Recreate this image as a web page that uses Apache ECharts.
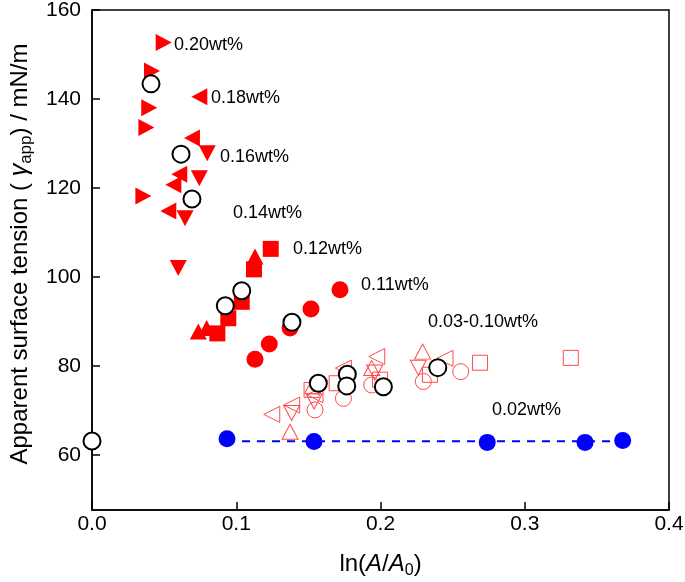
<!DOCTYPE html>
<html>
<head>
<meta charset="utf-8">
<script src="https://cdn.jsdelivr.net/npm/echarts@6/dist/echarts.min.js"></script>
<style>html,body{margin:0;padding:0;background:#fff;}#c{width:685px;height:582px;}</style>
</head>
<body>
<div id="c"></div>
<script>
// ---- data ----
const xTicks = [0, 0.1, 0.2, 0.3, 0.4];
const yTicks = [60, 80, 100, 120, 140, 160];

const wt020 = [[0.0497,152.7],[0.0416,146.3],[0.0397,138.0],[0.0377,133.6],[0.0356,118.2]];
const wt018 = [[0.0744,140.5],[0.0693,131.2],[0.0605,123.1],[0.0564,120.7],[0.0529,114.8]];
const wt016 = [[0.0799,127.8],[0.0744,122.2],[0.0645,113.2],[0.0598,102.0]];
const wt014 = [[0.1130,104.6],[0.0737,87.7],[0.0795,88.5]];
const wt012 = [[0.1239,106.3],[0.1123,101.7],[0.1038,94.4],[0.0945,90.7],[0.0869,87.3]];
const wt011 = [[0.1719,97.1],[0.1518,92.8],[0.1373,88.5],[0.1229,84.9],[0.1130,81.5]];
const wt002 = [[0.0936,63.6],[0.1539,63.0],[0.2740,62.8],[0.3418,62.8],[0.3679,63.2]];
const water = [[0,63.1],[0.0409,143.4],[0.0617,127.6],[0.0693,117.5],[0.0924,93.5],[0.1038,96.9],[0.1386,89.8],[0.1569,76.1],[0.1770,78.1],[0.1766,75.5],[0.2020,75.3],[0.2397,79.6]];

const lowUp = [[0.1373,65.2],[0.1530,75.5],[0.1939,79.5],[0.2292,83.2]];
const lowDown = [[0.1384,69.4],[0.1540,72.0],[0.1960,78.5],[0.2262,79.6]];
const lowLeft = [[0.1246,69.1],[0.1384,71.2],[0.1546,73.5],[0.1743,79.5],[0.1974,82.1],[0.2447,81.7]];
const lowSquare = [[0.1522,74.6],[0.1696,76.1],[0.1997,76.9],[0.2343,78.0],[0.2690,80.7],[0.3319,81.8]];
const lowCircle = [[0.1546,70.1],[0.1743,72.7],[0.1939,75.7],[0.2297,76.5],[0.2556,78.7]];

const groupLabels = ['0.20wt%','0.18wt%','0.16wt%','0.14wt%','0.12wt%','0.11wt%','0.03-0.10wt%','0.02wt%'];
const labelAnchors = [[0.0568,152.1],[0.0825,140.2],[0.0887,127.0],[0.0977,114.4],[0.1393,106.3],[0.1865,98.2],[0.2329,89.9],[0.2773,70.1]];

// ---- chart ----
const FONT = 'Liberation Sans, Arial, sans-serif';
const RED = '#ff0000';
const LRED = '#ff4a4a';
const fitY = wt002.reduce((s,p)=>s+p[1],0)/wt002.length;
const fitLine = [[Math.min(...wt002.map(p=>p[0])), fitY],[Math.max(...wt002.map(p=>p[0])), fitY]];

function filled(data, symbol, rot, size, color, z) {
  return {type:'scatter', data, symbol, symbolRotate: rot, symbolSize: size,
    itemStyle:{color: color, opacity:1}, z: z || 3, silent:true};
}
function open(data, symbol, rot, size) {
  return {type:'scatter', data, symbol, symbolRotate: rot, symbolSize: size,
    itemStyle:{color:'rgba(255,255,255,0)', borderColor: LRED, borderWidth:1, opacity:1}, z:2, silent:true};
}

const chart = echarts.init(document.getElementById('c'), null, {renderer:'canvas'});
chart.setOption({
  animation:false,
  backgroundColor:'#fff',
  grid:{left:92, right:16, top:10, bottom:72, outerBoundsMode:'none', containLabel:false,
    show:true, borderColor:'#000', borderWidth:1.5, backgroundColor:'transparent'},
  graphic:[{
    type:'text', x:20, y:254, rotation:Math.PI/2, silent:true,
    style:{text:'Apparent surface tension ( {g|γ}{s|app}) / mN/m', fill:'#000',
      font:'24px ' + FONT, align:'center', verticalAlign:'middle',
      rich:{g:{fontStyle:'italic', fontFamily:FONT, fontSize:25, fill:'#000'},
            s:{fontFamily:FONT, fontSize:17, fill:'#000', padding:[13,0,0,0]}}}
  }],
  xAxis:{type:'value', min:0, max:0.4, interval:0.1,
    axisLine:{show:true, onZero:false, lineStyle:{color:'#000', width:1.5}},
    axisTick:{show:true, inside:true, length:8, lineStyle:{color:'#000', width:1.5}},
    axisLabel:{color:'#000', fontFamily:FONT, fontSize:21, margin:4, formatter:v=>v.toFixed(1), customValues: xTicks},
    splitLine:{show:false},
    name:'ln({i|A}/{i|A}{s|0})', nameLocation:'middle', nameGap:40,
    nameTextStyle:{color:'#000', fontFamily:FONT, fontSize:24,
      rich:{i:{fontStyle:'italic', fontFamily:FONT, fontSize:24, color:'#000'},
            s:{fontFamily:FONT, fontSize:16, color:'#000', padding:[13,0,0,0]}}}
  },
  yAxis:{type:'value', min:47.6, max:160,
    axisLine:{show:true, onZero:false, lineStyle:{color:'#000', width:1.5}},
    axisTick:{show:true, inside:true, length:8, lineStyle:{color:'#000', width:1.5}, customValues: yTicks},
    axisLabel:{color:'#000', fontFamily:FONT, fontSize:21, margin:11, customValues: yTicks},
    splitLine:{show:false}
  },
  series:[
    {type:'line', data: fitLine, symbol:'none', lineStyle:{color:'#0000ff', width:2, type:[8,7]}, z:1, silent:true},
    open(lowSquare,'rect',0,[15,15]),
    open(lowCircle,'circle',0,16),
    open(lowUp,'triangle',0,[16,15]),
    open(lowDown,'triangle',180,[16,15]),
    open(lowLeft,'triangle',90,[16,16]),
    filled(wt020,'triangle',-90,[17,16],RED),
    filled(wt018,'triangle',90,[17,16],RED),
    filled(wt016,'triangle',180,[17,16],RED),
    filled(wt014,'triangle',0,[17,16],RED),
    filled(wt012,'rect',0,[16,16],RED),
    filled(wt011,'circle',0,17,RED),
    filled(wt002,'circle',0,17,'#0000ff'),
    {type:'scatter', data: water, symbol:'circle', symbolSize:17, clip:false,
      itemStyle:{color:'#fff', borderColor:'#000', borderWidth:2, opacity:1}, z:5, silent:true},
    {type:'scatter', data: labelAnchors.map((p,i)=>({value:p, name:groupLabels[i]})), symbol:'circle', symbolSize:0,
      itemStyle:{opacity:1},
      label:{show:true, position:'right', distance:0, formatter:p=>p.name, color:'#000', fontFamily:FONT, fontSize:18},
      z:6, silent:true}
  ]
});
</script>
</body>
</html>
